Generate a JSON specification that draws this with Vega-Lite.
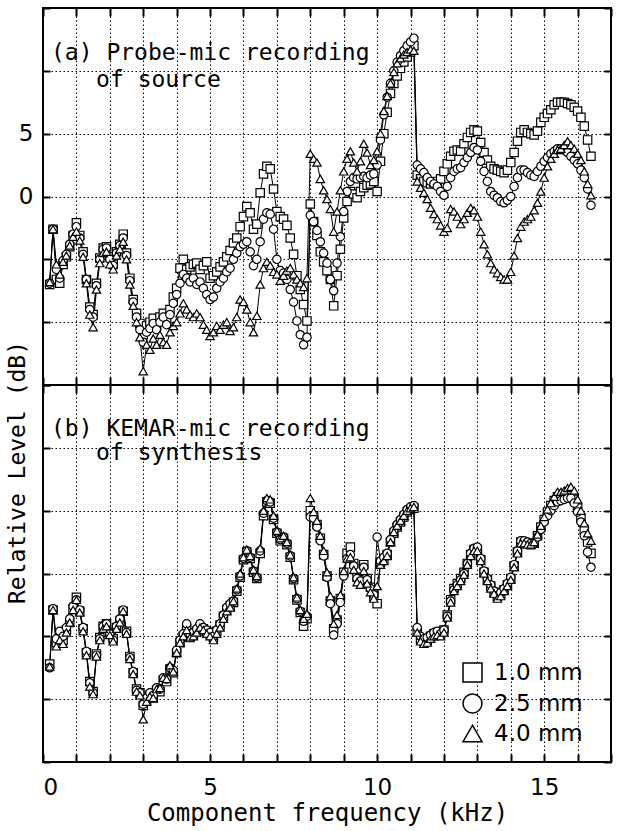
{
"$schema":"https://vega.github.io/schema/vega-lite/v6.json",
"padding":{"left":4,"top":6,"right":4,"bottom":4},
"spacing":0,
"bounds":"flush",
"config":{"font":"DejaVu Sans","view":{"stroke":"black","strokeWidth":2},"axis":{"labelColor":"black","titleColor":"black","titleFontWeight":"normal","tickColor":"black","tickWidth":1.5,"domain":false,"gridColor":"black","gridDash":[1.5,2.5],"gridWidth":1,"gridOpacity":1,"minExtent":0}},
"datasets":{
"a":[
{"f":0.2,"s":"1.0 mm","v":-7.0},{"f":0.3,"s":"1.0 mm","v":-2.6},{"f":0.4,"s":"1.0 mm","v":-6.6},{"f":0.5,"s":"1.0 mm","v":-6.9},{"f":0.6,"s":"1.0 mm","v":-5.4},{"f":0.7,"s":"1.0 mm","v":-4.8},{"f":0.8,"s":"1.0 mm","v":-4.0},{"f":0.9,"s":"1.0 mm","v":-3.1},{"f":1.0,"s":"1.0 mm","v":-2.1},{"f":1.1,"s":"1.0 mm","v":-3.1},{"f":1.2,"s":"1.0 mm","v":-4.4},{"f":1.3,"s":"1.0 mm","v":-6.6},{"f":1.4,"s":"1.0 mm","v":-8.8},{"f":1.5,"s":"1.0 mm","v":-9.4},{"f":1.6,"s":"1.0 mm","v":-6.9},{"f":1.7,"s":"1.0 mm","v":-4.9},{"f":1.8,"s":"1.0 mm","v":-4.1},{"f":1.9,"s":"1.0 mm","v":-4.0},{"f":2.0,"s":"1.0 mm","v":-4.8},{"f":2.1,"s":"1.0 mm","v":-5.4},{"f":2.2,"s":"1.0 mm","v":-4.4},{"f":2.3,"s":"1.0 mm","v":-3.8},{"f":2.4,"s":"1.0 mm","v":-3.0},{"f":2.5,"s":"1.0 mm","v":-4.5},{"f":2.6,"s":"1.0 mm","v":-6.5},{"f":2.7,"s":"1.0 mm","v":-8.2},{"f":2.8,"s":"1.0 mm","v":-9.3},{"f":2.9,"s":"1.0 mm","v":-10.1},{"f":3.0,"s":"1.0 mm","v":-11.0},{"f":3.1,"s":"1.0 mm","v":-10.3},{"f":3.2,"s":"1.0 mm","v":-10.0},{"f":3.3,"s":"1.0 mm","v":-9.7},{"f":3.4,"s":"1.0 mm","v":-10.2},{"f":3.5,"s":"1.0 mm","v":-9.6},{"f":3.6,"s":"1.0 mm","v":-9.3},{"f":3.7,"s":"1.0 mm","v":-9.8},{"f":3.8,"s":"1.0 mm","v":-9.0},{"f":3.9,"s":"1.0 mm","v":-8.0},{"f":4.0,"s":"1.0 mm","v":-7.3},{"f":4.1,"s":"1.0 mm","v":-5.7},{"f":4.2,"s":"1.0 mm","v":-5.0},{"f":4.3,"s":"1.0 mm","v":-5.8},{"f":4.4,"s":"1.0 mm","v":-5.6},{"f":4.5,"s":"1.0 mm","v":-5.4},{"f":4.6,"s":"1.0 mm","v":-5.3},{"f":4.7,"s":"1.0 mm","v":-5.8},{"f":4.8,"s":"1.0 mm","v":-5.5},{"f":4.9,"s":"1.0 mm","v":-5.2},{"f":5.0,"s":"1.0 mm","v":-6.5},{"f":5.1,"s":"1.0 mm","v":-6.3},{"f":5.2,"s":"1.0 mm","v":-6.0},{"f":5.3,"s":"1.0 mm","v":-5.6},{"f":5.4,"s":"1.0 mm","v":-5.2},{"f":5.5,"s":"1.0 mm","v":-4.8},{"f":5.6,"s":"1.0 mm","v":-4.3},{"f":5.7,"s":"1.0 mm","v":-3.7},{"f":5.8,"s":"1.0 mm","v":-3.3},{"f":5.9,"s":"1.0 mm","v":-2.4},{"f":6.0,"s":"1.0 mm","v":-1.6},{"f":6.1,"s":"1.0 mm","v":-0.8},{"f":6.2,"s":"1.0 mm","v":-1.3},{"f":6.3,"s":"1.0 mm","v":-2.6},{"f":6.4,"s":"1.0 mm","v":-2.2},{"f":6.5,"s":"1.0 mm","v":0.3},{"f":6.6,"s":"1.0 mm","v":1.8},{"f":6.7,"s":"1.0 mm","v":2.4},{"f":6.8,"s":"1.0 mm","v":2.2},{"f":6.9,"s":"1.0 mm","v":0.6},{"f":7.0,"s":"1.0 mm","v":-1.2},{"f":7.1,"s":"1.0 mm","v":-1.6},{"f":7.2,"s":"1.0 mm","v":-1.8},{"f":7.3,"s":"1.0 mm","v":-2.3},{"f":7.4,"s":"1.0 mm","v":-3.3},{"f":7.5,"s":"1.0 mm","v":-4.6},{"f":7.6,"s":"1.0 mm","v":-6.3},{"f":7.7,"s":"1.0 mm","v":-7.4},{"f":7.8,"s":"1.0 mm","v":-8.6},{"f":7.9,"s":"1.0 mm","v":-9.9},{"f":8.0,"s":"1.0 mm","v":-0.6},{"f":8.1,"s":"1.0 mm","v":-2.0},{"f":8.2,"s":"1.0 mm","v":-3.1},{"f":8.3,"s":"1.0 mm","v":-4.4},{"f":8.4,"s":"1.0 mm","v":-5.2},{"f":8.5,"s":"1.0 mm","v":-5.9},{"f":8.6,"s":"1.0 mm","v":-6.6},{"f":8.7,"s":"1.0 mm","v":-8.7},{"f":8.8,"s":"1.0 mm","v":-6.3},{"f":8.9,"s":"1.0 mm","v":-4.2},{"f":9.0,"s":"1.0 mm","v":-1.7},{"f":9.1,"s":"1.0 mm","v":-0.4},{"f":9.2,"s":"1.0 mm","v":0.4},{"f":9.3,"s":"1.0 mm","v":0.2},{"f":9.4,"s":"1.0 mm","v":-0.1},{"f":9.5,"s":"1.0 mm","v":0.4},{"f":9.6,"s":"1.0 mm","v":0.7},{"f":9.7,"s":"1.0 mm","v":0.9},{"f":9.8,"s":"1.0 mm","v":1.0},{"f":9.9,"s":"1.0 mm","v":1.2},{"f":10.0,"s":"1.0 mm","v":0.4},{"f":10.1,"s":"1.0 mm","v":2.8},{"f":10.2,"s":"1.0 mm","v":5.0},{"f":10.3,"s":"1.0 mm","v":6.7},{"f":10.4,"s":"1.0 mm","v":8.2},{"f":10.5,"s":"1.0 mm","v":9.0},{"f":10.6,"s":"1.0 mm","v":9.6},{"f":10.7,"s":"1.0 mm","v":10.2},{"f":10.8,"s":"1.0 mm","v":10.7},{"f":10.9,"s":"1.0 mm","v":11.1},{"f":11.0,"s":"1.0 mm","v":11.5},{"f":11.1,"s":"1.0 mm","v":12.0},{"f":11.2,"s":"1.0 mm","v":1.7},{"f":11.3,"s":"1.0 mm","v":1.4},{"f":11.4,"s":"1.0 mm","v":1.2},{"f":11.5,"s":"1.0 mm","v":1.1},{"f":11.6,"s":"1.0 mm","v":1.0},{"f":11.7,"s":"1.0 mm","v":1.1},{"f":11.8,"s":"1.0 mm","v":1.2},{"f":11.9,"s":"1.0 mm","v":1.4},{"f":12.0,"s":"1.0 mm","v":2.0},{"f":12.1,"s":"1.0 mm","v":2.6},{"f":12.2,"s":"1.0 mm","v":3.2},{"f":12.3,"s":"1.0 mm","v":3.6},{"f":12.4,"s":"1.0 mm","v":3.7},{"f":12.5,"s":"1.0 mm","v":3.6},{"f":12.6,"s":"1.0 mm","v":4.2},{"f":12.7,"s":"1.0 mm","v":4.7},{"f":12.8,"s":"1.0 mm","v":5.1},{"f":12.9,"s":"1.0 mm","v":5.3},{"f":13.0,"s":"1.0 mm","v":5.2},{"f":13.1,"s":"1.0 mm","v":4.3},{"f":13.2,"s":"1.0 mm","v":3.5},{"f":13.3,"s":"1.0 mm","v":2.9},{"f":13.4,"s":"1.0 mm","v":2.4},{"f":13.5,"s":"1.0 mm","v":2.2},{"f":13.6,"s":"1.0 mm","v":2.1},{"f":13.7,"s":"1.0 mm","v":2.0},{"f":13.8,"s":"1.0 mm","v":1.9},{"f":13.9,"s":"1.0 mm","v":2.1},{"f":14.0,"s":"1.0 mm","v":2.7},{"f":14.1,"s":"1.0 mm","v":3.5},{"f":14.2,"s":"1.0 mm","v":4.4},{"f":14.3,"s":"1.0 mm","v":5.1},{"f":14.4,"s":"1.0 mm","v":5.3},{"f":14.5,"s":"1.0 mm","v":5.1},{"f":14.6,"s":"1.0 mm","v":5.0},{"f":14.7,"s":"1.0 mm","v":4.9},{"f":14.8,"s":"1.0 mm","v":5.2},{"f":14.9,"s":"1.0 mm","v":5.9},{"f":15.0,"s":"1.0 mm","v":6.3},{"f":15.1,"s":"1.0 mm","v":6.6},{"f":15.2,"s":"1.0 mm","v":6.9},{"f":15.3,"s":"1.0 mm","v":7.3},{"f":15.4,"s":"1.0 mm","v":7.5},{"f":15.5,"s":"1.0 mm","v":7.5},{"f":15.6,"s":"1.0 mm","v":7.5},{"f":15.7,"s":"1.0 mm","v":7.4},{"f":15.8,"s":"1.0 mm","v":7.3},{"f":15.9,"s":"1.0 mm","v":7.1},{"f":16.0,"s":"1.0 mm","v":6.8},{"f":16.1,"s":"1.0 mm","v":6.3},{"f":16.2,"s":"1.0 mm","v":5.6},{"f":16.3,"s":"1.0 mm","v":4.5},{"f":16.4,"s":"1.0 mm","v":3.2},
{"f":0.2,"s":"2.5 mm","v":-6.9},{"f":0.3,"s":"2.5 mm","v":-2.6},{"f":0.4,"s":"2.5 mm","v":-5.8},{"f":0.5,"s":"2.5 mm","v":-6.5},{"f":0.6,"s":"2.5 mm","v":-5.1},{"f":0.7,"s":"2.5 mm","v":-4.6},{"f":0.8,"s":"2.5 mm","v":-3.8},{"f":0.9,"s":"2.5 mm","v":-3.0},{"f":1.0,"s":"2.5 mm","v":-2.4},{"f":1.1,"s":"2.5 mm","v":-3.3},{"f":1.2,"s":"2.5 mm","v":-4.6},{"f":1.3,"s":"2.5 mm","v":-6.6},{"f":1.4,"s":"2.5 mm","v":-9.0},{"f":1.5,"s":"2.5 mm","v":-9.6},{"f":1.6,"s":"2.5 mm","v":-7.1},{"f":1.7,"s":"2.5 mm","v":-5.0},{"f":1.8,"s":"2.5 mm","v":-4.2},{"f":1.9,"s":"2.5 mm","v":-4.1},{"f":2.0,"s":"2.5 mm","v":-5.0},{"f":2.1,"s":"2.5 mm","v":-5.5},{"f":2.2,"s":"2.5 mm","v":-4.5},{"f":2.3,"s":"2.5 mm","v":-3.9},{"f":2.4,"s":"2.5 mm","v":-3.3},{"f":2.5,"s":"2.5 mm","v":-4.7},{"f":2.6,"s":"2.5 mm","v":-6.7},{"f":2.7,"s":"2.5 mm","v":-8.4},{"f":2.8,"s":"2.5 mm","v":-9.6},{"f":2.9,"s":"2.5 mm","v":-10.6},{"f":3.0,"s":"2.5 mm","v":-11.6},{"f":3.1,"s":"2.5 mm","v":-10.8},{"f":3.2,"s":"2.5 mm","v":-10.5},{"f":3.3,"s":"2.5 mm","v":-10.1},{"f":3.4,"s":"2.5 mm","v":-10.6},{"f":3.5,"s":"2.5 mm","v":-10.0},{"f":3.6,"s":"2.5 mm","v":-9.6},{"f":3.7,"s":"2.5 mm","v":-10.2},{"f":3.8,"s":"2.5 mm","v":-9.4},{"f":3.9,"s":"2.5 mm","v":-8.5},{"f":4.0,"s":"2.5 mm","v":-7.8},{"f":4.1,"s":"2.5 mm","v":-6.9},{"f":4.2,"s":"2.5 mm","v":-6.2},{"f":4.3,"s":"2.5 mm","v":-6.5},{"f":4.4,"s":"2.5 mm","v":-6.8},{"f":4.5,"s":"2.5 mm","v":-6.5},{"f":4.6,"s":"2.5 mm","v":-7.0},{"f":4.7,"s":"2.5 mm","v":-6.8},{"f":4.8,"s":"2.5 mm","v":-7.3},{"f":4.9,"s":"2.5 mm","v":-7.8},{"f":5.0,"s":"2.5 mm","v":-8.2},{"f":5.1,"s":"2.5 mm","v":-8.0},{"f":5.2,"s":"2.5 mm","v":-7.3},{"f":5.3,"s":"2.5 mm","v":-6.8},{"f":5.4,"s":"2.5 mm","v":-6.5},{"f":5.5,"s":"2.5 mm","v":-6.0},{"f":5.6,"s":"2.5 mm","v":-5.7},{"f":5.7,"s":"2.5 mm","v":-5.0},{"f":5.8,"s":"2.5 mm","v":-4.5},{"f":5.9,"s":"2.5 mm","v":-4.0},{"f":6.0,"s":"2.5 mm","v":-3.8},{"f":6.1,"s":"2.5 mm","v":-3.6},{"f":6.2,"s":"2.5 mm","v":-4.4},{"f":6.3,"s":"2.5 mm","v":-5.5},{"f":6.4,"s":"2.5 mm","v":-5.0},{"f":6.5,"s":"2.5 mm","v":-3.6},{"f":6.6,"s":"2.5 mm","v":-1.8},{"f":6.7,"s":"2.5 mm","v":-1.3},{"f":6.8,"s":"2.5 mm","v":-1.4},{"f":6.9,"s":"2.5 mm","v":-2.6},{"f":7.0,"s":"2.5 mm","v":-5.0},{"f":7.1,"s":"2.5 mm","v":-5.9},{"f":7.2,"s":"2.5 mm","v":-6.1},{"f":7.3,"s":"2.5 mm","v":-6.6},{"f":7.4,"s":"2.5 mm","v":-7.4},{"f":7.5,"s":"2.5 mm","v":-8.4},{"f":7.6,"s":"2.5 mm","v":-9.9},{"f":7.7,"s":"2.5 mm","v":-11.0},{"f":7.8,"s":"2.5 mm","v":-11.8},{"f":7.9,"s":"2.5 mm","v":-11.2},{"f":8.0,"s":"2.5 mm","v":-1.5},{"f":8.1,"s":"2.5 mm","v":-2.0},{"f":8.2,"s":"2.5 mm","v":-2.7},{"f":8.3,"s":"2.5 mm","v":-3.6},{"f":8.4,"s":"2.5 mm","v":-4.5},{"f":8.5,"s":"2.5 mm","v":-5.3},{"f":8.6,"s":"2.5 mm","v":-6.6},{"f":8.7,"s":"2.5 mm","v":-7.5},{"f":8.8,"s":"2.5 mm","v":-5.3},{"f":8.9,"s":"2.5 mm","v":-3.2},{"f":9.0,"s":"2.5 mm","v":-1.2},{"f":9.1,"s":"2.5 mm","v":0.4},{"f":9.2,"s":"2.5 mm","v":1.2},{"f":9.3,"s":"2.5 mm","v":1.5},{"f":9.4,"s":"2.5 mm","v":1.4},{"f":9.5,"s":"2.5 mm","v":1.5},{"f":9.6,"s":"2.5 mm","v":1.6},{"f":9.7,"s":"2.5 mm","v":1.5},{"f":9.8,"s":"2.5 mm","v":1.7},{"f":9.9,"s":"2.5 mm","v":1.8},{"f":10.0,"s":"2.5 mm","v":2.5},{"f":10.1,"s":"2.5 mm","v":4.5},{"f":10.2,"s":"2.5 mm","v":6.5},{"f":10.3,"s":"2.5 mm","v":7.9},{"f":10.4,"s":"2.5 mm","v":9.0},{"f":10.5,"s":"2.5 mm","v":10.0},{"f":10.6,"s":"2.5 mm","v":10.7},{"f":10.7,"s":"2.5 mm","v":11.2},{"f":10.8,"s":"2.5 mm","v":11.6},{"f":10.9,"s":"2.5 mm","v":12.0},{"f":11.0,"s":"2.5 mm","v":12.3},{"f":11.1,"s":"2.5 mm","v":12.6},{"f":11.2,"s":"2.5 mm","v":2.5},{"f":11.3,"s":"2.5 mm","v":2.2},{"f":11.4,"s":"2.5 mm","v":1.9},{"f":11.5,"s":"2.5 mm","v":1.5},{"f":11.6,"s":"2.5 mm","v":1.2},{"f":11.7,"s":"2.5 mm","v":1.0},{"f":11.8,"s":"2.5 mm","v":0.8},{"f":11.9,"s":"2.5 mm","v":0.4},{"f":12.0,"s":"2.5 mm","v":0.1},{"f":12.1,"s":"2.5 mm","v":0.8},{"f":12.2,"s":"2.5 mm","v":1.5},{"f":12.3,"s":"2.5 mm","v":2.0},{"f":12.4,"s":"2.5 mm","v":2.2},{"f":12.5,"s":"2.5 mm","v":2.3},{"f":12.6,"s":"2.5 mm","v":2.7},{"f":12.7,"s":"2.5 mm","v":3.1},{"f":12.8,"s":"2.5 mm","v":3.5},{"f":12.9,"s":"2.5 mm","v":3.9},{"f":13.0,"s":"2.5 mm","v":3.7},{"f":13.1,"s":"2.5 mm","v":2.8},{"f":13.2,"s":"2.5 mm","v":2.0},{"f":13.3,"s":"2.5 mm","v":1.2},{"f":13.4,"s":"2.5 mm","v":0.4},{"f":13.5,"s":"2.5 mm","v":0.1},{"f":13.6,"s":"2.5 mm","v":-0.1},{"f":13.7,"s":"2.5 mm","v":-0.4},{"f":13.8,"s":"2.5 mm","v":-0.5},{"f":13.9,"s":"2.5 mm","v":-0.3},{"f":14.0,"s":"2.5 mm","v":0.0},{"f":14.1,"s":"2.5 mm","v":0.8},{"f":14.2,"s":"2.5 mm","v":1.5},{"f":14.3,"s":"2.5 mm","v":2.1},{"f":14.4,"s":"2.5 mm","v":2.1},{"f":14.5,"s":"2.5 mm","v":1.9},{"f":14.6,"s":"2.5 mm","v":1.7},{"f":14.7,"s":"2.5 mm","v":1.6},{"f":14.8,"s":"2.5 mm","v":2.0},{"f":14.9,"s":"2.5 mm","v":2.4},{"f":15.0,"s":"2.5 mm","v":2.8},{"f":15.1,"s":"2.5 mm","v":3.1},{"f":15.2,"s":"2.5 mm","v":3.4},{"f":15.3,"s":"2.5 mm","v":3.6},{"f":15.4,"s":"2.5 mm","v":3.8},{"f":15.5,"s":"2.5 mm","v":3.8},{"f":15.6,"s":"2.5 mm","v":3.7},{"f":15.7,"s":"2.5 mm","v":3.5},{"f":15.8,"s":"2.5 mm","v":3.2},{"f":15.9,"s":"2.5 mm","v":2.9},{"f":16.0,"s":"2.5 mm","v":2.6},{"f":16.1,"s":"2.5 mm","v":2.1},{"f":16.2,"s":"2.5 mm","v":1.5},{"f":16.3,"s":"2.5 mm","v":0.6},{"f":16.4,"s":"2.5 mm","v":-0.7},
{"f":0.2,"s":"4.0 mm","v":-6.8},{"f":0.3,"s":"4.0 mm","v":-2.6},{"f":0.4,"s":"4.0 mm","v":-5.4},{"f":0.5,"s":"4.0 mm","v":-6.2},{"f":0.6,"s":"4.0 mm","v":-5.2},{"f":0.7,"s":"4.0 mm","v":-4.7},{"f":0.8,"s":"4.0 mm","v":-3.9},{"f":0.9,"s":"4.0 mm","v":-3.2},{"f":1.0,"s":"4.0 mm","v":-2.8},{"f":1.1,"s":"4.0 mm","v":-3.5},{"f":1.2,"s":"4.0 mm","v":-4.8},{"f":1.3,"s":"4.0 mm","v":-6.9},{"f":1.4,"s":"4.0 mm","v":-9.4},{"f":1.5,"s":"4.0 mm","v":-10.4},{"f":1.6,"s":"4.0 mm","v":-7.4},{"f":1.7,"s":"4.0 mm","v":-5.3},{"f":1.8,"s":"4.0 mm","v":-4.5},{"f":1.9,"s":"4.0 mm","v":-4.4},{"f":2.0,"s":"4.0 mm","v":-5.4},{"f":2.1,"s":"4.0 mm","v":-5.8},{"f":2.2,"s":"4.0 mm","v":-4.7},{"f":2.3,"s":"4.0 mm","v":-4.2},{"f":2.4,"s":"4.0 mm","v":-3.6},{"f":2.5,"s":"4.0 mm","v":-5.0},{"f":2.6,"s":"4.0 mm","v":-7.0},{"f":2.7,"s":"4.0 mm","v":-8.7},{"f":2.8,"s":"4.0 mm","v":-10.0},{"f":2.9,"s":"4.0 mm","v":-11.2},{"f":3.0,"s":"4.0 mm","v":-13.9},{"f":3.1,"s":"4.0 mm","v":-11.8},{"f":3.2,"s":"4.0 mm","v":-12.2},{"f":3.3,"s":"4.0 mm","v":-11.3},{"f":3.4,"s":"4.0 mm","v":-11.8},{"f":3.5,"s":"4.0 mm","v":-11.0},{"f":3.6,"s":"4.0 mm","v":-11.6},{"f":3.7,"s":"4.0 mm","v":-11.8},{"f":3.8,"s":"4.0 mm","v":-10.8},{"f":3.9,"s":"4.0 mm","v":-10.3},{"f":4.0,"s":"4.0 mm","v":-10.0},{"f":4.1,"s":"4.0 mm","v":-9.3},{"f":4.2,"s":"4.0 mm","v":-8.5},{"f":4.3,"s":"4.0 mm","v":-9.0},{"f":4.4,"s":"4.0 mm","v":-9.4},{"f":4.5,"s":"4.0 mm","v":-9.6},{"f":4.6,"s":"4.0 mm","v":-9.3},{"f":4.7,"s":"4.0 mm","v":-9.6},{"f":4.8,"s":"4.0 mm","v":-10.2},{"f":4.9,"s":"4.0 mm","v":-10.6},{"f":5.0,"s":"4.0 mm","v":-11.1},{"f":5.1,"s":"4.0 mm","v":-10.8},{"f":5.2,"s":"4.0 mm","v":-10.3},{"f":5.3,"s":"4.0 mm","v":-10.6},{"f":5.4,"s":"4.0 mm","v":-10.2},{"f":5.5,"s":"4.0 mm","v":-10.0},{"f":5.6,"s":"4.0 mm","v":-10.7},{"f":5.7,"s":"4.0 mm","v":-10.4},{"f":5.8,"s":"4.0 mm","v":-9.6},{"f":5.9,"s":"4.0 mm","v":-8.2},{"f":6.0,"s":"4.0 mm","v":-8.4},{"f":6.1,"s":"4.0 mm","v":-9.0},{"f":6.2,"s":"4.0 mm","v":-10.0},{"f":6.3,"s":"4.0 mm","v":-10.8},{"f":6.4,"s":"4.0 mm","v":-9.5},{"f":6.5,"s":"4.0 mm","v":-7.0},{"f":6.6,"s":"4.0 mm","v":-5.7},{"f":6.7,"s":"4.0 mm","v":-5.2},{"f":6.8,"s":"4.0 mm","v":-5.5},{"f":6.9,"s":"4.0 mm","v":-6.0},{"f":7.0,"s":"4.0 mm","v":-6.2},{"f":7.1,"s":"4.0 mm","v":-6.7},{"f":7.2,"s":"4.0 mm","v":-6.3},{"f":7.3,"s":"4.0 mm","v":-5.9},{"f":7.4,"s":"4.0 mm","v":-5.7},{"f":7.5,"s":"4.0 mm","v":-6.2},{"f":7.6,"s":"4.0 mm","v":-6.6},{"f":7.7,"s":"4.0 mm","v":-6.9},{"f":7.8,"s":"4.0 mm","v":-7.2},{"f":7.9,"s":"4.0 mm","v":-6.5},{"f":8.0,"s":"4.0 mm","v":3.4},{"f":8.1,"s":"4.0 mm","v":3.0},{"f":8.2,"s":"4.0 mm","v":2.7},{"f":8.3,"s":"4.0 mm","v":1.4},{"f":8.4,"s":"4.0 mm","v":0.5},{"f":8.5,"s":"4.0 mm","v":-0.2},{"f":8.6,"s":"4.0 mm","v":-1.0},{"f":8.7,"s":"4.0 mm","v":-2.8},{"f":8.8,"s":"4.0 mm","v":-1.2},{"f":8.9,"s":"4.0 mm","v":0.5},{"f":9.0,"s":"4.0 mm","v":2.0},{"f":9.1,"s":"4.0 mm","v":3.0},{"f":9.2,"s":"4.0 mm","v":3.6},{"f":9.3,"s":"4.0 mm","v":2.7},{"f":9.4,"s":"4.0 mm","v":2.0},{"f":9.5,"s":"4.0 mm","v":2.8},{"f":9.6,"s":"4.0 mm","v":4.2},{"f":9.7,"s":"4.0 mm","v":3.5},{"f":9.8,"s":"4.0 mm","v":2.5},{"f":9.9,"s":"4.0 mm","v":2.9},{"f":10.0,"s":"4.0 mm","v":3.6},{"f":10.1,"s":"4.0 mm","v":5.0},{"f":10.2,"s":"4.0 mm","v":6.8},{"f":10.3,"s":"4.0 mm","v":8.0},{"f":10.4,"s":"4.0 mm","v":9.0},{"f":10.5,"s":"4.0 mm","v":9.9},{"f":10.6,"s":"4.0 mm","v":10.6},{"f":10.7,"s":"4.0 mm","v":11.0},{"f":10.8,"s":"4.0 mm","v":11.3},{"f":10.9,"s":"4.0 mm","v":11.5},{"f":11.0,"s":"4.0 mm","v":11.7},{"f":11.1,"s":"4.0 mm","v":11.6},{"f":11.2,"s":"4.0 mm","v":1.2},{"f":11.3,"s":"4.0 mm","v":0.7},{"f":11.4,"s":"4.0 mm","v":0.3},{"f":11.5,"s":"4.0 mm","v":-0.2},{"f":11.6,"s":"4.0 mm","v":-0.9},{"f":11.7,"s":"4.0 mm","v":-1.4},{"f":11.8,"s":"4.0 mm","v":-1.8},{"f":11.9,"s":"4.0 mm","v":-2.3},{"f":12.0,"s":"4.0 mm","v":-2.8},{"f":12.1,"s":"4.0 mm","v":-2.5},{"f":12.2,"s":"4.0 mm","v":-1.0},{"f":12.3,"s":"4.0 mm","v":-1.2},{"f":12.4,"s":"4.0 mm","v":-1.6},{"f":12.5,"s":"4.0 mm","v":-2.2},{"f":12.6,"s":"4.0 mm","v":-1.8},{"f":12.7,"s":"4.0 mm","v":-1.3},{"f":12.8,"s":"4.0 mm","v":-0.9},{"f":12.9,"s":"4.0 mm","v":-1.1},{"f":13.0,"s":"4.0 mm","v":-1.6},{"f":13.1,"s":"4.0 mm","v":-2.8},{"f":13.2,"s":"4.0 mm","v":-3.8},{"f":13.3,"s":"4.0 mm","v":-4.6},{"f":13.4,"s":"4.0 mm","v":-5.3},{"f":13.5,"s":"4.0 mm","v":-5.8},{"f":13.6,"s":"4.0 mm","v":-6.1},{"f":13.7,"s":"4.0 mm","v":-6.4},{"f":13.8,"s":"4.0 mm","v":-6.6},{"f":13.9,"s":"4.0 mm","v":-6.6},{"f":14.0,"s":"4.0 mm","v":-6.0},{"f":14.1,"s":"4.0 mm","v":-4.7},{"f":14.2,"s":"4.0 mm","v":-3.3},{"f":14.3,"s":"4.0 mm","v":-2.4},{"f":14.4,"s":"4.0 mm","v":-2.0},{"f":14.5,"s":"4.0 mm","v":-1.8},{"f":14.6,"s":"4.0 mm","v":-1.6},{"f":14.7,"s":"4.0 mm","v":-1.1},{"f":14.8,"s":"4.0 mm","v":-0.5},{"f":14.9,"s":"4.0 mm","v":0.4},{"f":15.0,"s":"4.0 mm","v":1.5},{"f":15.1,"s":"4.0 mm","v":2.4},{"f":15.2,"s":"4.0 mm","v":3.0},{"f":15.3,"s":"4.0 mm","v":3.4},{"f":15.4,"s":"4.0 mm","v":3.7},{"f":15.5,"s":"4.0 mm","v":3.8},{"f":15.6,"s":"4.0 mm","v":4.1},{"f":15.7,"s":"4.0 mm","v":4.4},{"f":15.8,"s":"4.0 mm","v":4.1},{"f":15.9,"s":"4.0 mm","v":3.8},{"f":16.0,"s":"4.0 mm","v":3.4},{"f":16.1,"s":"4.0 mm","v":2.9},{"f":16.2,"s":"4.0 mm","v":2.0},{"f":16.3,"s":"4.0 mm","v":1.0},{"f":16.4,"s":"4.0 mm","v":0.1}
],
"b":[
{"f":0.2,"s":"1.0 mm","v":-7.2},{"f":0.3,"s":"1.0 mm","v":-2.9},{"f":0.4,"s":"1.0 mm","v":-5.5},{"f":0.5,"s":"1.0 mm","v":-5.0},{"f":0.6,"s":"1.0 mm","v":-5.3},{"f":0.7,"s":"1.0 mm","v":-4.5},{"f":0.8,"s":"1.0 mm","v":-3.9},{"f":0.9,"s":"1.0 mm","v":-2.8},{"f":1.0,"s":"1.0 mm","v":-1.9},{"f":1.1,"s":"1.0 mm","v":-3.0},{"f":1.2,"s":"1.0 mm","v":-4.4},{"f":1.3,"s":"1.0 mm","v":-6.3},{"f":1.4,"s":"1.0 mm","v":-8.6},{"f":1.5,"s":"1.0 mm","v":-9.4},{"f":1.6,"s":"1.0 mm","v":-6.4},{"f":1.7,"s":"1.0 mm","v":-5.1},{"f":1.8,"s":"1.0 mm","v":-4.2},{"f":1.9,"s":"1.0 mm","v":-4.0},{"f":2.0,"s":"1.0 mm","v":-4.7},{"f":2.1,"s":"1.0 mm","v":-5.2},{"f":2.2,"s":"1.0 mm","v":-4.3},{"f":2.3,"s":"1.0 mm","v":-3.8},{"f":2.4,"s":"1.0 mm","v":-3.0},{"f":2.5,"s":"1.0 mm","v":-4.6},{"f":2.6,"s":"1.0 mm","v":-6.6},{"f":2.7,"s":"1.0 mm","v":-7.9},{"f":2.8,"s":"1.0 mm","v":-9.2},{"f":2.9,"s":"1.0 mm","v":-9.5},{"f":3.0,"s":"1.0 mm","v":-10.5},{"f":3.1,"s":"1.0 mm","v":-10.1},{"f":3.2,"s":"1.0 mm","v":-9.7},{"f":3.3,"s":"1.0 mm","v":-9.9},{"f":3.4,"s":"1.0 mm","v":-9.3},{"f":3.5,"s":"1.0 mm","v":-9.4},{"f":3.6,"s":"1.0 mm","v":-8.5},{"f":3.7,"s":"1.0 mm","v":-8.6},{"f":3.8,"s":"1.0 mm","v":-7.6},{"f":3.9,"s":"1.0 mm","v":-7.9},{"f":4.0,"s":"1.0 mm","v":-6.3},{"f":4.1,"s":"1.0 mm","v":-5.5},{"f":4.2,"s":"1.0 mm","v":-5.0},{"f":4.3,"s":"1.0 mm","v":-4.4},{"f":4.4,"s":"1.0 mm","v":-5.1},{"f":4.5,"s":"1.0 mm","v":-4.9},{"f":4.6,"s":"1.0 mm","v":-4.6},{"f":4.7,"s":"1.0 mm","v":-4.3},{"f":4.8,"s":"1.0 mm","v":-4.4},{"f":4.9,"s":"1.0 mm","v":-4.6},{"f":5.0,"s":"1.0 mm","v":-4.8},{"f":5.1,"s":"1.0 mm","v":-5.1},{"f":5.2,"s":"1.0 mm","v":-4.6},{"f":5.3,"s":"1.0 mm","v":-4.1},{"f":5.4,"s":"1.0 mm","v":-3.4},{"f":5.5,"s":"1.0 mm","v":-2.9},{"f":5.6,"s":"1.0 mm","v":-2.6},{"f":5.7,"s":"1.0 mm","v":-2.3},{"f":5.8,"s":"1.0 mm","v":-1.4},{"f":5.9,"s":"1.0 mm","v":-0.3},{"f":6.0,"s":"1.0 mm","v":1.1},{"f":6.1,"s":"1.0 mm","v":1.7},{"f":6.2,"s":"1.0 mm","v":1.2},{"f":6.3,"s":"1.0 mm","v":0.1},{"f":6.4,"s":"1.0 mm","v":-0.4},{"f":6.5,"s":"1.0 mm","v":1.6},{"f":6.6,"s":"1.0 mm","v":4.6},{"f":6.7,"s":"1.0 mm","v":5.7},{"f":6.8,"s":"1.0 mm","v":5.6},{"f":6.9,"s":"1.0 mm","v":4.3},{"f":7.0,"s":"1.0 mm","v":3.2},{"f":7.1,"s":"1.0 mm","v":2.6},{"f":7.2,"s":"1.0 mm","v":2.8},{"f":7.3,"s":"1.0 mm","v":2.3},{"f":7.4,"s":"1.0 mm","v":1.3},{"f":7.5,"s":"1.0 mm","v":-0.5},{"f":7.6,"s":"1.0 mm","v":-2.1},{"f":7.7,"s":"1.0 mm","v":-3.1},{"f":7.8,"s":"1.0 mm","v":-4.2},{"f":7.9,"s":"1.0 mm","v":-3.6},{"f":8.0,"s":"1.0 mm","v":5.0},{"f":8.1,"s":"1.0 mm","v":4.6},{"f":8.2,"s":"1.0 mm","v":3.9},{"f":8.3,"s":"1.0 mm","v":2.8},{"f":8.4,"s":"1.0 mm","v":1.5},{"f":8.5,"s":"1.0 mm","v":-0.2},{"f":8.6,"s":"1.0 mm","v":-2.2},{"f":8.7,"s":"1.0 mm","v":-4.4},{"f":8.8,"s":"1.0 mm","v":-3.7},{"f":8.9,"s":"1.0 mm","v":-2.0},{"f":9.0,"s":"1.0 mm","v":0.1},{"f":9.1,"s":"1.0 mm","v":1.6},{"f":9.2,"s":"1.0 mm","v":2.1},{"f":9.3,"s":"1.0 mm","v":0.8},{"f":9.4,"s":"1.0 mm","v":-0.3},{"f":9.5,"s":"1.0 mm","v":-0.5},{"f":9.6,"s":"1.0 mm","v":0.7},{"f":9.7,"s":"1.0 mm","v":-0.4},{"f":9.8,"s":"1.0 mm","v":-1.1},{"f":9.9,"s":"1.0 mm","v":-1.8},{"f":10.0,"s":"1.0 mm","v":-2.4},{"f":10.1,"s":"1.0 mm","v":0.9},{"f":10.2,"s":"1.0 mm","v":1.1},{"f":10.3,"s":"1.0 mm","v":1.5},{"f":10.4,"s":"1.0 mm","v":2.5},{"f":10.5,"s":"1.0 mm","v":3.2},{"f":10.6,"s":"1.0 mm","v":3.7},{"f":10.7,"s":"1.0 mm","v":4.1},{"f":10.8,"s":"1.0 mm","v":4.5},{"f":10.9,"s":"1.0 mm","v":4.9},{"f":11.0,"s":"1.0 mm","v":5.1},{"f":11.1,"s":"1.0 mm","v":5.2},{"f":11.2,"s":"1.0 mm","v":-4.6},{"f":11.3,"s":"1.0 mm","v":-5.2},{"f":11.4,"s":"1.0 mm","v":-5.4},{"f":11.5,"s":"1.0 mm","v":-5.3},{"f":11.6,"s":"1.0 mm","v":-5.0},{"f":11.7,"s":"1.0 mm","v":-4.8},{"f":11.8,"s":"1.0 mm","v":-4.7},{"f":11.9,"s":"1.0 mm","v":-4.8},{"f":12.0,"s":"1.0 mm","v":-4.5},{"f":12.1,"s":"1.0 mm","v":-3.3},{"f":12.2,"s":"1.0 mm","v":-2.1},{"f":12.3,"s":"1.0 mm","v":-1.2},{"f":12.4,"s":"1.0 mm","v":-0.8},{"f":12.5,"s":"1.0 mm","v":-0.4},{"f":12.6,"s":"1.0 mm","v":0.1},{"f":12.7,"s":"1.0 mm","v":0.8},{"f":12.8,"s":"1.0 mm","v":1.5},{"f":12.9,"s":"1.0 mm","v":1.9},{"f":13.0,"s":"1.0 mm","v":1.9},{"f":13.1,"s":"1.0 mm","v":1.1},{"f":13.2,"s":"1.0 mm","v":0.1},{"f":13.3,"s":"1.0 mm","v":-0.5},{"f":13.4,"s":"1.0 mm","v":-1.0},{"f":13.5,"s":"1.0 mm","v":-1.5},{"f":13.6,"s":"1.0 mm","v":-1.8},{"f":13.7,"s":"1.0 mm","v":-1.6},{"f":13.8,"s":"1.0 mm","v":-1.3},{"f":13.9,"s":"1.0 mm","v":-0.9},{"f":14.0,"s":"1.0 mm","v":-0.4},{"f":14.1,"s":"1.0 mm","v":0.6},{"f":14.2,"s":"1.0 mm","v":1.7},{"f":14.3,"s":"1.0 mm","v":2.5},{"f":14.4,"s":"1.0 mm","v":2.5},{"f":14.5,"s":"1.0 mm","v":2.4},{"f":14.6,"s":"1.0 mm","v":2.3},{"f":14.7,"s":"1.0 mm","v":2.4},{"f":14.8,"s":"1.0 mm","v":3.0},{"f":14.9,"s":"1.0 mm","v":3.7},{"f":15.0,"s":"1.0 mm","v":4.3},{"f":15.1,"s":"1.0 mm","v":4.9},{"f":15.2,"s":"1.0 mm","v":5.4},{"f":15.3,"s":"1.0 mm","v":5.8},{"f":15.4,"s":"1.0 mm","v":6.1},{"f":15.5,"s":"1.0 mm","v":6.2},{"f":15.6,"s":"1.0 mm","v":6.3},{"f":15.7,"s":"1.0 mm","v":6.4},{"f":15.8,"s":"1.0 mm","v":6.3},{"f":15.9,"s":"1.0 mm","v":5.9},{"f":16.0,"s":"1.0 mm","v":5.2},{"f":16.1,"s":"1.0 mm","v":4.4},{"f":16.2,"s":"1.0 mm","v":3.5},{"f":16.3,"s":"1.0 mm","v":2.5},{"f":16.4,"s":"1.0 mm","v":1.6},
{"f":0.2,"s":"2.5 mm","v":-7.5},{"f":0.3,"s":"2.5 mm","v":-2.8},{"f":0.4,"s":"2.5 mm","v":-5.2},{"f":0.5,"s":"2.5 mm","v":-4.6},{"f":0.6,"s":"2.5 mm","v":-5.0},{"f":0.7,"s":"2.5 mm","v":-4.3},{"f":0.8,"s":"2.5 mm","v":-3.6},{"f":0.9,"s":"2.5 mm","v":-2.6},{"f":1.0,"s":"2.5 mm","v":-2.1},{"f":1.1,"s":"2.5 mm","v":-2.9},{"f":1.2,"s":"2.5 mm","v":-4.3},{"f":1.3,"s":"2.5 mm","v":-6.2},{"f":1.4,"s":"2.5 mm","v":-8.7},{"f":1.5,"s":"2.5 mm","v":-9.5},{"f":1.6,"s":"2.5 mm","v":-6.5},{"f":1.7,"s":"2.5 mm","v":-5.2},{"f":1.8,"s":"2.5 mm","v":-4.2},{"f":1.9,"s":"2.5 mm","v":-4.0},{"f":2.0,"s":"2.5 mm","v":-4.8},{"f":2.1,"s":"2.5 mm","v":-5.3},{"f":2.2,"s":"2.5 mm","v":-4.2},{"f":2.3,"s":"2.5 mm","v":-3.6},{"f":2.4,"s":"2.5 mm","v":-2.9},{"f":2.5,"s":"2.5 mm","v":-4.7},{"f":2.6,"s":"2.5 mm","v":-6.7},{"f":2.7,"s":"2.5 mm","v":-7.8},{"f":2.8,"s":"2.5 mm","v":-9.3},{"f":2.9,"s":"2.5 mm","v":-9.5},{"f":3.0,"s":"2.5 mm","v":-10.4},{"f":3.1,"s":"2.5 mm","v":-9.9},{"f":3.2,"s":"2.5 mm","v":-9.5},{"f":3.3,"s":"2.5 mm","v":-9.7},{"f":3.4,"s":"2.5 mm","v":-9.1},{"f":3.5,"s":"2.5 mm","v":-9.2},{"f":3.6,"s":"2.5 mm","v":-8.3},{"f":3.7,"s":"2.5 mm","v":-8.4},{"f":3.8,"s":"2.5 mm","v":-7.5},{"f":3.9,"s":"2.5 mm","v":-7.7},{"f":4.0,"s":"2.5 mm","v":-6.1},{"f":4.1,"s":"2.5 mm","v":-5.3},{"f":4.2,"s":"2.5 mm","v":-4.8},{"f":4.3,"s":"2.5 mm","v":-4.0},{"f":4.4,"s":"2.5 mm","v":-4.8},{"f":4.5,"s":"2.5 mm","v":-4.7},{"f":4.6,"s":"2.5 mm","v":-4.4},{"f":4.7,"s":"2.5 mm","v":-4.0},{"f":4.8,"s":"2.5 mm","v":-4.3},{"f":4.9,"s":"2.5 mm","v":-4.5},{"f":5.0,"s":"2.5 mm","v":-4.7},{"f":5.1,"s":"2.5 mm","v":-5.0},{"f":5.2,"s":"2.5 mm","v":-4.5},{"f":5.3,"s":"2.5 mm","v":-4.0},{"f":5.4,"s":"2.5 mm","v":-3.3},{"f":5.5,"s":"2.5 mm","v":-2.7},{"f":5.6,"s":"2.5 mm","v":-2.4},{"f":5.7,"s":"2.5 mm","v":-2.2},{"f":5.8,"s":"2.5 mm","v":-1.3},{"f":5.9,"s":"2.5 mm","v":-0.2},{"f":6.0,"s":"2.5 mm","v":1.2},{"f":6.1,"s":"2.5 mm","v":1.8},{"f":6.2,"s":"2.5 mm","v":1.3},{"f":6.3,"s":"2.5 mm","v":0.2},{"f":6.4,"s":"2.5 mm","v":-0.3},{"f":6.5,"s":"2.5 mm","v":1.8},{"f":6.6,"s":"2.5 mm","v":4.8},{"f":6.7,"s":"2.5 mm","v":5.8},{"f":6.8,"s":"2.5 mm","v":5.7},{"f":6.9,"s":"2.5 mm","v":4.4},{"f":7.0,"s":"2.5 mm","v":3.3},{"f":7.1,"s":"2.5 mm","v":2.7},{"f":7.2,"s":"2.5 mm","v":2.9},{"f":7.3,"s":"2.5 mm","v":2.4},{"f":7.4,"s":"2.5 mm","v":1.4},{"f":7.5,"s":"2.5 mm","v":-0.4},{"f":7.6,"s":"2.5 mm","v":-2.0},{"f":7.7,"s":"2.5 mm","v":-3.0},{"f":7.8,"s":"2.5 mm","v":-3.8},{"f":7.9,"s":"2.5 mm","v":-3.4},{"f":8.0,"s":"2.5 mm","v":4.5},{"f":8.1,"s":"2.5 mm","v":4.4},{"f":8.2,"s":"2.5 mm","v":3.7},{"f":8.3,"s":"2.5 mm","v":2.6},{"f":8.4,"s":"2.5 mm","v":1.4},{"f":8.5,"s":"2.5 mm","v":-0.3},{"f":8.6,"s":"2.5 mm","v":-2.4},{"f":8.7,"s":"2.5 mm","v":-4.9},{"f":8.8,"s":"2.5 mm","v":-4.0},{"f":8.9,"s":"2.5 mm","v":-2.3},{"f":9.0,"s":"2.5 mm","v":-0.2},{"f":9.1,"s":"2.5 mm","v":1.2},{"f":9.2,"s":"2.5 mm","v":1.5},{"f":9.3,"s":"2.5 mm","v":0.6},{"f":9.4,"s":"2.5 mm","v":-0.4},{"f":9.5,"s":"2.5 mm","v":-0.6},{"f":9.6,"s":"2.5 mm","v":0.5},{"f":9.7,"s":"2.5 mm","v":-0.5},{"f":9.8,"s":"2.5 mm","v":-1.2},{"f":9.9,"s":"2.5 mm","v":-1.7},{"f":10.0,"s":"2.5 mm","v":2.9},{"f":10.1,"s":"2.5 mm","v":1.0},{"f":10.2,"s":"2.5 mm","v":1.3},{"f":10.3,"s":"2.5 mm","v":1.6},{"f":10.4,"s":"2.5 mm","v":2.7},{"f":10.5,"s":"2.5 mm","v":3.4},{"f":10.6,"s":"2.5 mm","v":3.9},{"f":10.7,"s":"2.5 mm","v":4.3},{"f":10.8,"s":"2.5 mm","v":4.7},{"f":10.9,"s":"2.5 mm","v":5.1},{"f":11.0,"s":"2.5 mm","v":5.3},{"f":11.1,"s":"2.5 mm","v":5.4},{"f":11.2,"s":"2.5 mm","v":-4.3},{"f":11.3,"s":"2.5 mm","v":-5.0},{"f":11.4,"s":"2.5 mm","v":-5.2},{"f":11.5,"s":"2.5 mm","v":-5.1},{"f":11.6,"s":"2.5 mm","v":-4.9},{"f":11.7,"s":"2.5 mm","v":-4.7},{"f":11.8,"s":"2.5 mm","v":-4.6},{"f":11.9,"s":"2.5 mm","v":-4.8},{"f":12.0,"s":"2.5 mm","v":-4.5},{"f":12.1,"s":"2.5 mm","v":-3.4},{"f":12.2,"s":"2.5 mm","v":-2.2},{"f":12.3,"s":"2.5 mm","v":-1.3},{"f":12.4,"s":"2.5 mm","v":-0.9},{"f":12.5,"s":"2.5 mm","v":-0.5},{"f":12.6,"s":"2.5 mm","v":0.0},{"f":12.7,"s":"2.5 mm","v":0.8},{"f":12.8,"s":"2.5 mm","v":1.6},{"f":12.9,"s":"2.5 mm","v":2.0},{"f":13.0,"s":"2.5 mm","v":2.1},{"f":13.1,"s":"2.5 mm","v":1.2},{"f":13.2,"s":"2.5 mm","v":0.2},{"f":13.3,"s":"2.5 mm","v":-0.4},{"f":13.4,"s":"2.5 mm","v":-0.9},{"f":13.5,"s":"2.5 mm","v":-1.4},{"f":13.6,"s":"2.5 mm","v":-1.8},{"f":13.7,"s":"2.5 mm","v":-1.5},{"f":13.8,"s":"2.5 mm","v":-1.2},{"f":13.9,"s":"2.5 mm","v":-0.8},{"f":14.0,"s":"2.5 mm","v":-0.3},{"f":14.1,"s":"2.5 mm","v":0.7},{"f":14.2,"s":"2.5 mm","v":1.8},{"f":14.3,"s":"2.5 mm","v":2.6},{"f":14.4,"s":"2.5 mm","v":2.6},{"f":14.5,"s":"2.5 mm","v":2.5},{"f":14.6,"s":"2.5 mm","v":2.4},{"f":14.7,"s":"2.5 mm","v":2.4},{"f":14.8,"s":"2.5 mm","v":2.9},{"f":14.9,"s":"2.5 mm","v":3.5},{"f":15.0,"s":"2.5 mm","v":4.1},{"f":15.1,"s":"2.5 mm","v":4.6},{"f":15.2,"s":"2.5 mm","v":5.0},{"f":15.3,"s":"2.5 mm","v":5.4},{"f":15.4,"s":"2.5 mm","v":5.7},{"f":15.5,"s":"2.5 mm","v":5.8},{"f":15.6,"s":"2.5 mm","v":5.9},{"f":15.7,"s":"2.5 mm","v":6.0},{"f":15.8,"s":"2.5 mm","v":6.0},{"f":15.9,"s":"2.5 mm","v":5.6},{"f":16.0,"s":"2.5 mm","v":4.9},{"f":16.1,"s":"2.5 mm","v":4.1},{"f":16.2,"s":"2.5 mm","v":3.0},{"f":16.3,"s":"2.5 mm","v":1.7},{"f":16.4,"s":"2.5 mm","v":0.5},
{"f":0.2,"s":"4.0 mm","v":-7.4},{"f":0.3,"s":"4.0 mm","v":-2.9},{"f":0.4,"s":"4.0 mm","v":-5.8},{"f":0.5,"s":"4.0 mm","v":-5.3},{"f":0.6,"s":"4.0 mm","v":-5.6},{"f":0.7,"s":"4.0 mm","v":-4.7},{"f":0.8,"s":"4.0 mm","v":-3.9},{"f":0.9,"s":"4.0 mm","v":-2.9},{"f":1.0,"s":"4.0 mm","v":-2.1},{"f":1.1,"s":"4.0 mm","v":-3.1},{"f":1.2,"s":"4.0 mm","v":-4.6},{"f":1.3,"s":"4.0 mm","v":-6.5},{"f":1.4,"s":"4.0 mm","v":-9.0},{"f":1.5,"s":"4.0 mm","v":-9.6},{"f":1.6,"s":"4.0 mm","v":-6.6},{"f":1.7,"s":"4.0 mm","v":-5.3},{"f":1.8,"s":"4.0 mm","v":-4.4},{"f":1.9,"s":"4.0 mm","v":-4.2},{"f":2.0,"s":"4.0 mm","v":-4.9},{"f":2.1,"s":"4.0 mm","v":-5.4},{"f":2.2,"s":"4.0 mm","v":-4.4},{"f":2.3,"s":"4.0 mm","v":-3.9},{"f":2.4,"s":"4.0 mm","v":-3.0},{"f":2.5,"s":"4.0 mm","v":-4.8},{"f":2.6,"s":"4.0 mm","v":-6.8},{"f":2.7,"s":"4.0 mm","v":-8.0},{"f":2.8,"s":"4.0 mm","v":-9.4},{"f":2.9,"s":"4.0 mm","v":-9.7},{"f":3.0,"s":"4.0 mm","v":-11.6},{"f":3.1,"s":"4.0 mm","v":-10.2},{"f":3.2,"s":"4.0 mm","v":-9.8},{"f":3.3,"s":"4.0 mm","v":-9.9},{"f":3.4,"s":"4.0 mm","v":-9.2},{"f":3.5,"s":"4.0 mm","v":-9.1},{"f":3.6,"s":"4.0 mm","v":-8.3},{"f":3.7,"s":"4.0 mm","v":-8.4},{"f":3.8,"s":"4.0 mm","v":-7.3},{"f":3.9,"s":"4.0 mm","v":-7.8},{"f":4.0,"s":"4.0 mm","v":-6.3},{"f":4.1,"s":"4.0 mm","v":-5.5},{"f":4.2,"s":"4.0 mm","v":-5.0},{"f":4.3,"s":"4.0 mm","v":-4.5},{"f":4.4,"s":"4.0 mm","v":-5.1},{"f":4.5,"s":"4.0 mm","v":-5.0},{"f":4.6,"s":"4.0 mm","v":-4.7},{"f":4.7,"s":"4.0 mm","v":-4.3},{"f":4.8,"s":"4.0 mm","v":-4.5},{"f":4.9,"s":"4.0 mm","v":-4.8},{"f":5.0,"s":"4.0 mm","v":-5.0},{"f":5.1,"s":"4.0 mm","v":-5.3},{"f":5.2,"s":"4.0 mm","v":-4.8},{"f":5.3,"s":"4.0 mm","v":-4.3},{"f":5.4,"s":"4.0 mm","v":-3.6},{"f":5.5,"s":"4.0 mm","v":-3.0},{"f":5.6,"s":"4.0 mm","v":-2.7},{"f":5.7,"s":"4.0 mm","v":-2.2},{"f":5.8,"s":"4.0 mm","v":-1.2},{"f":5.9,"s":"4.0 mm","v":0.0},{"f":6.0,"s":"4.0 mm","v":1.3},{"f":6.1,"s":"4.0 mm","v":1.9},{"f":6.2,"s":"4.0 mm","v":1.4},{"f":6.3,"s":"4.0 mm","v":0.3},{"f":6.4,"s":"4.0 mm","v":-0.2},{"f":6.5,"s":"4.0 mm","v":2.0},{"f":6.6,"s":"4.0 mm","v":5.0},{"f":6.7,"s":"4.0 mm","v":6.0},{"f":6.8,"s":"4.0 mm","v":5.9},{"f":6.9,"s":"4.0 mm","v":4.6},{"f":7.0,"s":"4.0 mm","v":3.4},{"f":7.1,"s":"4.0 mm","v":2.8},{"f":7.2,"s":"4.0 mm","v":3.0},{"f":7.3,"s":"4.0 mm","v":2.5},{"f":7.4,"s":"4.0 mm","v":1.5},{"f":7.5,"s":"4.0 mm","v":-0.3},{"f":7.6,"s":"4.0 mm","v":-1.9},{"f":7.7,"s":"4.0 mm","v":-2.9},{"f":7.8,"s":"4.0 mm","v":-3.6},{"f":7.9,"s":"4.0 mm","v":-3.2},{"f":8.0,"s":"4.0 mm","v":6.0},{"f":8.1,"s":"4.0 mm","v":4.9},{"f":8.2,"s":"4.0 mm","v":4.2},{"f":8.3,"s":"4.0 mm","v":3.0},{"f":8.4,"s":"4.0 mm","v":1.8},{"f":8.5,"s":"4.0 mm","v":0.1},{"f":8.6,"s":"4.0 mm","v":-1.8},{"f":8.7,"s":"4.0 mm","v":-4.0},{"f":8.8,"s":"4.0 mm","v":-3.3},{"f":8.9,"s":"4.0 mm","v":-1.7},{"f":9.0,"s":"4.0 mm","v":0.2},{"f":9.1,"s":"4.0 mm","v":1.2},{"f":9.2,"s":"4.0 mm","v":1.3},{"f":9.3,"s":"4.0 mm","v":0.3},{"f":9.4,"s":"4.0 mm","v":-0.7},{"f":9.5,"s":"4.0 mm","v":-0.9},{"f":9.6,"s":"4.0 mm","v":0.2},{"f":9.7,"s":"4.0 mm","v":-0.8},{"f":9.8,"s":"4.0 mm","v":-1.5},{"f":9.9,"s":"4.0 mm","v":-2.0},{"f":10.0,"s":"4.0 mm","v":-1.0},{"f":10.1,"s":"4.0 mm","v":0.7},{"f":10.2,"s":"4.0 mm","v":1.0},{"f":10.3,"s":"4.0 mm","v":1.4},{"f":10.4,"s":"4.0 mm","v":2.5},{"f":10.5,"s":"4.0 mm","v":3.3},{"f":10.6,"s":"4.0 mm","v":3.8},{"f":10.7,"s":"4.0 mm","v":4.2},{"f":10.8,"s":"4.0 mm","v":4.6},{"f":10.9,"s":"4.0 mm","v":5.0},{"f":11.0,"s":"4.0 mm","v":5.2},{"f":11.1,"s":"4.0 mm","v":5.3},{"f":11.2,"s":"4.0 mm","v":-4.7},{"f":11.3,"s":"4.0 mm","v":-5.4},{"f":11.4,"s":"4.0 mm","v":-5.6},{"f":11.5,"s":"4.0 mm","v":-5.5},{"f":11.6,"s":"4.0 mm","v":-5.2},{"f":11.7,"s":"4.0 mm","v":-5.0},{"f":11.8,"s":"4.0 mm","v":-4.9},{"f":11.9,"s":"4.0 mm","v":-5.0},{"f":12.0,"s":"4.0 mm","v":-4.7},{"f":12.1,"s":"4.0 mm","v":-3.5},{"f":12.2,"s":"4.0 mm","v":-2.3},{"f":12.3,"s":"4.0 mm","v":-1.4},{"f":12.4,"s":"4.0 mm","v":-1.0},{"f":12.5,"s":"4.0 mm","v":-0.6},{"f":12.6,"s":"4.0 mm","v":-0.1},{"f":12.7,"s":"4.0 mm","v":0.7},{"f":12.8,"s":"4.0 mm","v":1.4},{"f":12.9,"s":"4.0 mm","v":1.8},{"f":13.0,"s":"4.0 mm","v":1.8},{"f":13.1,"s":"4.0 mm","v":1.0},{"f":13.2,"s":"4.0 mm","v":0.0},{"f":13.3,"s":"4.0 mm","v":-0.6},{"f":13.4,"s":"4.0 mm","v":-1.2},{"f":13.5,"s":"4.0 mm","v":-1.6},{"f":13.6,"s":"4.0 mm","v":-2.0},{"f":13.7,"s":"4.0 mm","v":-1.8},{"f":13.8,"s":"4.0 mm","v":-1.4},{"f":13.9,"s":"4.0 mm","v":-1.0},{"f":14.0,"s":"4.0 mm","v":-0.5},{"f":14.1,"s":"4.0 mm","v":0.5},{"f":14.2,"s":"4.0 mm","v":1.6},{"f":14.3,"s":"4.0 mm","v":2.4},{"f":14.4,"s":"4.0 mm","v":2.4},{"f":14.5,"s":"4.0 mm","v":2.3},{"f":14.6,"s":"4.0 mm","v":2.3},{"f":14.7,"s":"4.0 mm","v":2.5},{"f":14.8,"s":"4.0 mm","v":3.1},{"f":14.9,"s":"4.0 mm","v":3.8},{"f":15.0,"s":"4.0 mm","v":4.5},{"f":15.1,"s":"4.0 mm","v":5.1},{"f":15.2,"s":"4.0 mm","v":5.6},{"f":15.3,"s":"4.0 mm","v":6.1},{"f":15.4,"s":"4.0 mm","v":6.5},{"f":15.5,"s":"4.0 mm","v":6.5},{"f":15.6,"s":"4.0 mm","v":6.6},{"f":15.7,"s":"4.0 mm","v":6.8},{"f":15.8,"s":"4.0 mm","v":6.9},{"f":15.9,"s":"4.0 mm","v":6.6},{"f":16.0,"s":"4.0 mm","v":5.9},{"f":16.1,"s":"4.0 mm","v":5.0},{"f":16.2,"s":"4.0 mm","v":4.0},{"f":16.3,"s":"4.0 mm","v":3.2},{"f":16.4,"s":"4.0 mm","v":2.6}
]
},
"resolve":{"legend":{"shape":"independent","stroke":"independent"},"scale":{"shape":"independent","stroke":"independent"}},
"vconcat":[
{"width":568,"height":377,
"layer":[
{"data":{"name":"a"},"mark":{"type":"line","color":"black","strokeWidth":1},
"encoding":{
"x":{"field":"f","type":"quantitative","scale":{"domain":[0,17],"nice":false,"zero":false},"axis":{"orient":"bottom","values":[0,1,2,3,4,5,6,7,8,9,10,11,12,13,14,15,16,17],"grid":true,"labels":false,"tickSize":-8,"tickWidth":2,"title":null}},
"y":{"field":"v","type":"quantitative","scale":{"domain":[-15,15],"nice":false,"zero":false},"axis":{"orient":"left","values":[-15,-10,-5,0,5,10,15],"grid":true,"tickSize":-7,"tickWidth":2,"labelFontSize":23,"labelPadding":17,"labelExpr":"datum.value==5||datum.value==0 ? datum.label : ''","title":null}},
"detail":{"field":"s"}}},
{"data":{"name":"a"},"mark":{"type":"point","filled":false,"fill":"white","strokeWidth":1.2,"size":70,"opacity":1},
"encoding":{
"x":{"field":"f","type":"quantitative","scale":{"domain":[0,17],"nice":false,"zero":false},"axis":{"orient":"top","values":[0,1,2,3,4,5,6,7,8,9,10,11,12,13,14,15,16,17],"grid":false,"labels":false,"tickSize":-8,"tickWidth":2,"title":null}},
"y":{"field":"v","type":"quantitative","scale":{"domain":[-15,15],"nice":false,"zero":false},"axis":{"orient":"right","values":[-15,-10,-5,0,5,10,15],"grid":false,"labels":false,"tickSize":-7,"tickWidth":2,"title":null}},
"stroke":{"field":"s","type":"nominal","scale":{"domain":["1.0 mm","2.5 mm","4.0 mm"],"range":["black","black","black"]},"legend":null},
"shape":{"field":"s","type":"nominal","scale":{"domain":["1.0 mm","2.5 mm","4.0 mm"],"range":["square","circle","triangle-up"]},"legend":null}}},
{"data":{"values":[{}]},"mark":{"type":"text","align":"left","baseline":"alphabetic","font":"DejaVu Sans Mono","fontSize":23,"color":"black"},
"encoding":{"x":{"datum":0.24,"type":"quantitative","axis":null},"y":{"datum":10.9,"type":"quantitative","axis":null},"text":{"value":"(a) Probe-mic recording"}}},
{"data":{"values":[{}]},"mark":{"type":"text","align":"left","baseline":"alphabetic","font":"DejaVu Sans Mono","fontSize":23,"color":"black"},
"encoding":{"x":{"datum":1.59,"type":"quantitative","axis":null},"y":{"datum":8.7,"type":"quantitative","axis":null},"text":{"value":"of source"}}}
],
"resolve":{"axis":{"x":"independent","y":"independent"}}
},
{"width":568,"height":377,
"layer":[
{"data":{"name":"b"},"mark":{"type":"line","color":"black","strokeWidth":1},
"encoding":{
"x":{"field":"f","type":"quantitative","scale":{"domain":[0,17],"nice":false,"zero":false},"axis":{"orient":"bottom","values":[0,1,2,3,4,5,6,7,8,9,10,11,12,13,14,15,16,17],"grid":true,"tickSize":-8,"tickWidth":2,"labelFontSize":23,"labelPadding":22,"labelExpr":"datum.value % 5 == 0 ? datum.label : ''","title":"Component frequency (kHz)","titleFont":"DejaVu Sans Mono","titleFontSize":24,"titleBaseline":"alphabetic","titleY":58}},
"y":{"field":"v","type":"quantitative","scale":{"domain":[-15,15],"nice":false,"zero":false},"axis":{"orient":"left","values":[-15,-10,-5,0,5,10,15],"grid":true,"labels":false,"tickSize":-7,"tickWidth":2,"title":"Relative Level (dB)","titleFont":"DejaVu Sans Mono","titleFontSize":23,"titleAngle":270,"titleBaseline":"alphabetic","titleAlign":"center","titleX":-19,"titleY":87}},
"detail":{"field":"s"}}},
{"data":{"name":"b"},"mark":{"type":"point","filled":false,"fill":"white","strokeWidth":1.2,"size":70,"opacity":1},
"encoding":{
"x":{"field":"f","type":"quantitative","scale":{"domain":[0,17],"nice":false,"zero":false},"axis":{"orient":"top","values":[0,1,2,3,4,5,6,7,8,9,10,11,12,13,14,15,16,17],"grid":false,"labels":false,"tickSize":-8,"tickWidth":2,"title":null}},
"y":{"field":"v","type":"quantitative","scale":{"domain":[-15,15],"nice":false,"zero":false},"axis":{"orient":"right","values":[-15,-10,-5,0,5,10,15],"grid":false,"labels":false,"tickSize":-7,"tickWidth":2,"title":null}},
"stroke":{"field":"s","type":"nominal","scale":{"domain":["1.0 mm","2.5 mm","4.0 mm"],"range":["black","black","black"]},"legend":{"orient":"none","legendX":418,"legendY":276,"title":null,"padding":0,"symbolSize":360,"symbolStrokeWidth":1.5,"symbolFillColor":"white","labelFontSize":23,"labelColor":"black","labelOffset":10,"rowPadding":6}},
"shape":{"field":"s","type":"nominal","scale":{"domain":["1.0 mm","2.5 mm","4.0 mm"],"range":["square","circle","triangle-up"]},"legend":{"orient":"none","legendX":418,"legendY":276,"title":null,"padding":0,"symbolSize":360,"symbolStrokeWidth":1.5,"symbolFillColor":"white","labelFontSize":23,"labelColor":"black","labelOffset":10,"rowPadding":6}}}},
{"data":{"values":[{}]},"mark":{"type":"text","align":"left","baseline":"alphabetic","font":"DejaVu Sans Mono","fontSize":23,"color":"black"},
"encoding":{"x":{"datum":0.24,"type":"quantitative","axis":null},"y":{"datum":10.95,"type":"quantitative","axis":null},"text":{"value":"(b) KEMAR-mic recording"}}},
{"data":{"values":[{}]},"mark":{"type":"text","align":"left","baseline":"alphabetic","font":"DejaVu Sans Mono","fontSize":23,"color":"black"},
"encoding":{"x":{"datum":1.59,"type":"quantitative","axis":null},"y":{"datum":9.0,"type":"quantitative","axis":null},"text":{"value":"of synthesis"}}}
],
"resolve":{"axis":{"x":"independent","y":"independent"}}
}
]
}
